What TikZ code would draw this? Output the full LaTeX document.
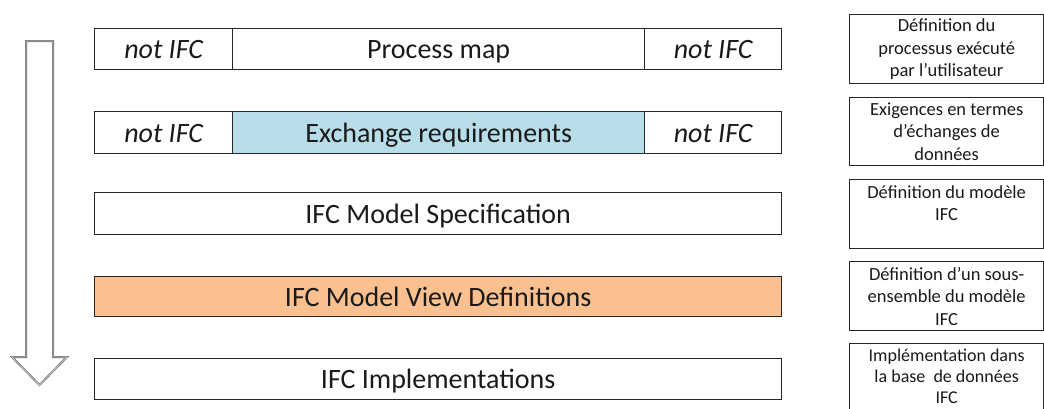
\documentclass[tikz,border=0pt]{standalone}
\usepackage{fontspec}
\setmainfont{Carlito}
\definecolor{exblue}{HTML}{B7DDE8}
\definecolor{mvorange}{HTML}{FAC090}
\definecolor{txt}{HTML}{1A1A1A}
\begin{document}
\begin{tikzpicture}[x=1pt,y=-1pt,
  cell/.style={draw=black!85, line width=1.3pt, anchor=north west, inner sep=0pt, text=txt, text height=20pt, text depth=1pt, font=\fontsize{28}{32}\selectfont},
  side/.style={draw=black!85, line width=1.3pt, anchor=north west, inner sep=0pt, text=txt, align=center, font=\fontsize{18.5}{22.5}\selectfont}]
\useasboundingbox (0,0) rectangle (1044,408);
% arrow
\draw[draw=black!60, line width=2pt, fill=white]
  (26,41) -- (53,41) -- (53,357) -- (67,357) -- (39.5,385) -- (12,357) -- (26,357) -- cycle;
\draw[draw=black!20, line width=0.8pt]
  (26,41) -- (53,41) -- (53,357) -- (67,357) -- (39.5,385) -- (12,357) -- (26,357) -- cycle;
% row 1
\node[cell, minimum width=138pt, minimum height=41pt] (r1a) at (94,28) {\itshape not IFC};
\node[cell, minimum width=412pt, minimum height=41pt] (r1b) at (232,28) {Process map};
\node[cell, minimum width=137pt, minimum height=41pt] (r1c) at (644,28) {\itshape not IFC};
% row 2
\node[cell, minimum width=138pt, minimum height=42pt] (r2a) at (94,111) {\itshape not IFC};
\node[cell, fill=exblue, minimum width=412pt, minimum height=42pt] (r2b) at (232,111) {Exchange requirements};
\node[cell, minimum width=137pt, minimum height=42pt] (r2c) at (644,111) {\itshape not IFC};
% rows 3-5
\node[cell, minimum width=687pt, minimum height=42pt] (r3) at (94,192) {IFC Model Specification};
\node[cell, fill=mvorange, minimum width=687pt, minimum height=40pt] (r4) at (94,276) {IFC Model View Definitions};
\node[cell, minimum width=687pt, minimum height=41pt] (r5) at (94,358) {IFC Implementations};
% side boxes
\node[side, minimum width=194pt, minimum height=69pt] (s1) at (849,14) {Définition du\\processus exécuté\\par l’utilisateur};
\node[side, minimum width=194pt, minimum height=68pt] (s2) at (849,97) {Exigences en termes\\d’échanges de\\données};
\node[side, minimum width=194pt, minimum height=69pt] (s3) at (849,179) {Définition du modèle\\IFC\\\mbox{}};
\node[side, minimum width=194pt, minimum height=69pt] (s4) at (849,261) {Définition d’un sous-\\ensemble du modèle\\IFC};
\node[side, minimum width=194pt, minimum height=66pt, font=\fontsize{18}{21}\selectfont] (s5) at (849,343) {Implémentation dans\\la base\ \ de données\\IFC};
\end{tikzpicture}
\end{document}
